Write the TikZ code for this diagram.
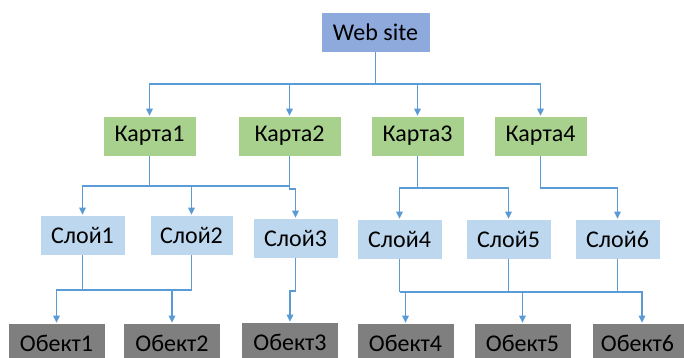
\documentclass[tikz,border=0pt]{standalone}
\usepackage{fontspec}
\setmainfont{Carlito}
\usetikzlibrary{arrows.meta}
\definecolor{webc}{HTML}{8EA9DB}
\definecolor{mapc}{HTML}{A9D18E}
\definecolor{layc}{HTML}{BDD7EE}
\definecolor{objc}{HTML}{7F7F7F}
\definecolor{linec}{HTML}{5B9BD5}
\tikzset{
  box/.style={draw=white, line width=0.6pt, minimum height=40pt, inner sep=0pt, font=\fontsize{24}{28}\selectfont, text=black},
  webbox/.style={box, fill=webc, minimum width=109pt},
  mapbox/.style={box, fill=mapc, minimum width=93pt},
  laybox/.style={box, fill=layc, minimum width=85pt},
  objbox/.style={box, fill=objc, minimum width=97pt},
  conn/.style={draw=linec, line width=1.1pt},
  arr/.style={conn, -{Triangle[length=7pt,width=6.5pt]}}
}
\begin{document}
\begin{tikzpicture}[x=1pt,y=-1pt]
\clip (0,0) rectangle (684,358);
\fill[white] (0,0) rectangle (684,358);
\node[webbox] (web) at (375.5,32) {Web site};
\node[mapbox] (k1) at (149.5,136) {Карта1};
\node[mapbox, minimum width=103pt] (k2) at (289.5,136) {Карта2};
\node[mapbox] (k3) at (417.5,136) {Карта3};
\node[mapbox] (k4) at (540.5,136) {Карта4};
\node[laybox] (s1) at (82.5,235) {Слой1};
\node[laybox, minimum width=83pt] (s2) at (191.5,235) {Слой2};
\node[laybox] (s3) at (295.5,238) {Слой3};
\node[laybox] (s4) at (399.5,239) {Слой4};
\node[laybox] (s5) at (508.5,239) {Слой5};
\node[laybox] (s6) at (617.5,239) {Слой6};
\node[objbox] (o1) at (56.5,343) {Обект1};
\node[objbox] (o2) at (172,343) {Обект2};
\node[objbox] (o3) at (290,342) {Обект3};
\node[objbox] (o4) at (405.5,343) {Обект4};
\node[objbox] (o5) at (522.5,343) {Обект5};
\node[objbox, minimum width=100pt] (o6) at (642,343) {\hspace*{-9pt}Обект6};
% web -> maps
\draw[arr] (web.south) -- (web.south |- 0,84) -| (k1.north);
\draw[arr] (web.south |- 0,84) -| (k2.north);
\draw[arr] (web.south |- 0,84) -| (k3.north);
\draw[arr] (web.south |- 0,84) -| (k4.north);
% maps -> layers
\draw[arr] (k1.south) -- (k1.south |- 0,186) -| (s1.north);
\draw[arr] (k1.south |- 0,186) -| (s2.north);
\draw[conn] (k1.south |- 0,186) -- (k2.south |- 0,186);
\draw[arr] (k2.south) -- (k2.south |- 0,189) -| (s3.north);
\draw[arr] (k3.south) -- (k3.south |- 0,188) -| (s4.north);
\draw[arr] (k3.south |- 0,188) -| (s5.north);
\draw[arr] (k4.south) -- (k4.south |- 0,188) -| (s6.north);
% layers -> objects
\draw[conn] (s1.south) -- (s1.south |- 0,290);
\draw[conn] (s2.south) -- (s2.south |- 0,290);
\draw[arr] (s2.south |- 0,290) -| (o1.north);
\draw[arr] (o2.north |- 0,290) -- (o2.north);
\draw[arr] (s3.south) -- (s3.south |- 0,291) -| (o3.north);
\draw[conn] (s4.south) -- (s4.south |- 0,292);
\draw[conn] (s5.south) -- (s5.south |- 0,292);
\draw[conn] (s6.south) -- (s6.south |- 0,292);
\draw[arr] (s4.south |- 0,292) -| (o6.north);
\draw[arr] (o4.north |- 0,292) -- (o4.north);
\draw[arr] (o5.north |- 0,292) -- (o5.north);
\end{tikzpicture}
\end{document}
